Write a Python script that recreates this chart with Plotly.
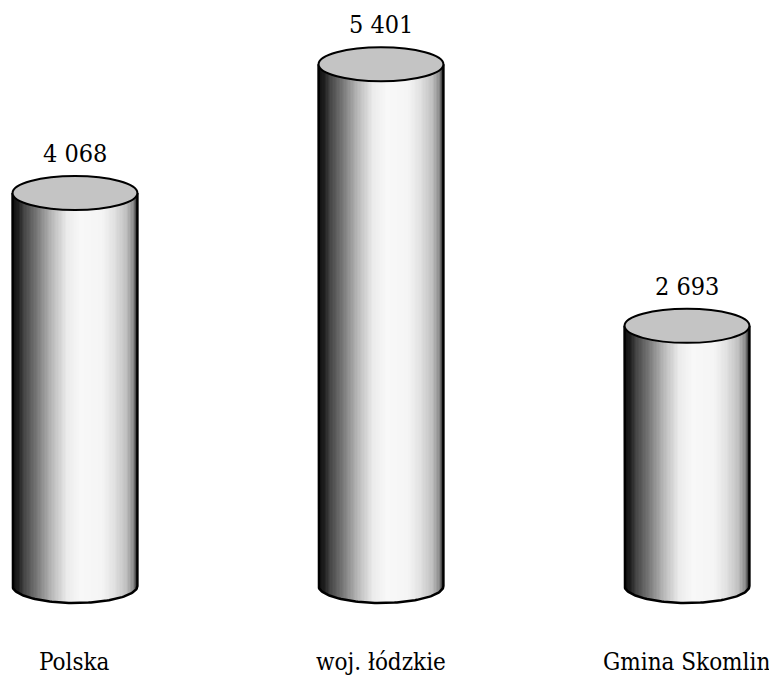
import numpy as np
import plotly.graph_objects as go

# Data
categories = ["Polska", "woj. łódzkie", "Gmina Skomlin"]
values = [4068, 5401, 2693]
value_labels = ["4 068", "5 401", "2 693"]

# Cylinder geometry (x in category units, cap half-height in value units)
BODY_W = 0.408
CAP_H = 176
N_STRIPS = 90

VALUE_FONT = "DejaVu Serif Condensed, DejaVu Serif"
CAT_FONT = "DejaVu Serif Condensed, DejaVu Serif"


def shade(t):
    """Grey level across the cylinder body, t=0 left edge, t=1 right edge."""
    stops = [
        (0.00, 15), (0.05, 30), (0.10, 70), (0.20, 120), (0.32, 185),
        (0.44, 235), (0.55, 248), (0.72, 245), (0.82, 225), (0.92, 190),
        (0.97, 140), (1.00, 60),
    ]
    ts = [s[0] for s in stops]
    gs = [s[1] for s in stops]
    g = int(round(np.interp(t, ts, gs)))
    return f"rgb({g},{g},{g})"


fig = go.Figure()
xs = np.arange(len(categories))
half = BODY_W / 2
sw = BODY_W / N_STRIPS

# Body: narrow vertical strips, each ending on the bottom ellipse
for j in range(N_STRIPS):
    dx = -half + (j + 0.5) * sw
    bottom = -CAP_H * np.sqrt(max(0.0, 1 - (dx / half) ** 2))
    fig.add_trace(go.Bar(
        x=[x + dx for x in xs],
        y=[v - bottom for v in values],
        base=[bottom] * len(values),
        width=sw * 1.15,
        marker=dict(color=shade((j + 0.5) / N_STRIPS), line=dict(width=0)),
        hoverinfo="skip",
        showlegend=False,
    ))

# Outline: left side, bottom arc, right side
theta = np.linspace(np.pi, 2 * np.pi, 80)
for x, v in zip(xs, values):
    ox = [x - half] + list(x + half * np.cos(theta)) + [x + half]
    oy = [v] + list(CAP_H * np.sin(theta)) + [v]
    fig.add_trace(go.Scatter(
        x=ox, y=oy, mode="lines",
        line=dict(color="black", width=2.5),
        hoverinfo="skip", showlegend=False,
    ))

# Top caps
for x, v in zip(xs, values):
    fig.add_shape(
        type="circle", xref="x", yref="y",
        x0=x - half, x1=x + half, y0=v - CAP_H, y1=v + CAP_H,
        fillcolor="rgb(196,196,196)",
        line=dict(color="black", width=2),
        layer="above",
    )

# Value labels above each cylinder
for x, v, lab in zip(xs, values, value_labels):
    fig.add_annotation(
        x=x, y=v + CAP_H, xref="x", yref="y",
        text=lab, showarrow=False, yanchor="bottom", yshift=6,
        font=dict(family=VALUE_FONT, size=25, color="black"),
    )

# Category labels below
for x, c in zip(xs, categories):
    fig.add_annotation(
        x=x, y=0.03, xref="x", yref="paper",
        text=c, showarrow=False, yanchor="middle",
        font=dict(family=CAT_FONT, size=24, color="black"),
    )

fig.update_layout(
    width=769, height=682,
    margin=dict(l=0, r=0, t=0, b=0),
    paper_bgcolor="white", plot_bgcolor="white",
    barmode="overlay", bargap=0,
    xaxis=dict(range=[-0.245, 2.268], visible=False, fixedrange=True),
    yaxis=dict(range=[-994, 6066], visible=False, fixedrange=True),
    showlegend=False,
)

fig.write_html("out.html")
